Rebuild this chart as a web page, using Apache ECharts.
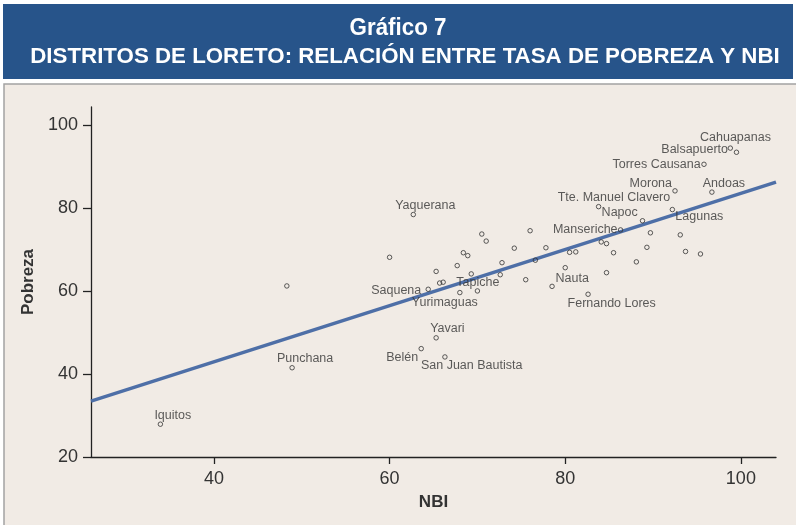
<!DOCTYPE html>
<html>
<head>
<meta charset="utf-8">
<style>
  html, body { margin: 0; padding: 0; background: #ffffff; }
  #chart { width: 796px; height: 525px; }
</style>
<script src="https://cdn.jsdelivr.net/npm/echarts@6/dist/echarts.min.js"></script>
</head>
<body>
<div id="chart"></div>
<script>
// ---- data ----
const names = ['Iquitos','Punchana','','Yaquerana','','','Saquena','','','','Yurimaguas','','','','Tapiche','','',
  'Yavari','Belén','San Juan Bautista','','','','','','','','Nauta','','','','Fernando Lores','','','','',
  'Manseriche','Napoc','Tte. Manuel Clavero','','','','Lagunas','','','','Morona','Andoas','Torres Causana','Balsapuerto','Cahuapanas'];
const nbi = [33.9,48.9,48.3,62.7,60.0,65.3,64.4,65.7,66.1,67.7,68.0,68.4,68.9,69.3,70.0,70.5,71.0,
  65.3,63.6,66.3,72.6,72.8,74.2,75.5,76.0,76.6,77.8,78.5,80.0,80.5,81.2,82.6,84.1,84.7,84.7,85.5,
  86.3,83.8,88.8,89.7,89.3,88.1,92.2,93.1,93.7,95.4,92.5,96.7,95.8,98.8,99.5];
const pobreza = [27.9,41.5,61.2,78.4,68.1,64.7,60.4,61.9,62.1,66.1,59.6,69.2,68.5,64.1,60.0,73.7,72.0,
  48.7,46.1,44.1,63.9,66.8,70.3,62.7,74.5,67.4,70.4,61.1,65.6,69.3,69.4,59.2,71.8,71.4,64.4,69.2,
  74.7,80.3,76.9,74.0,70.5,67.0,79.6,73.5,69.5,68.9,84.1,83.8,90.5,94.4,93.4];
const fitNbi = [26, 104];
const fitPobreza = [33.45, 86.2];
const xTicks = [40, 60, 80, 100];
const yTicks = [20, 40, 60, 80, 100];

// ---- label placement (style only) ----
const labelPlace = {
  'Iquitos': ['left', -6, -9],
  'Punchana': ['center', 13, -9],
  'Yaquerana': ['center', 12, -9],
  'Saquena': ['right', -7, 1],
  'Yurimaguas': ['center', -15, 9.5],
  'Tapiche': ['center', 0.5, -8],
  'Yavari': ['left', -6, -9],
  'Belén': ['right', -3, 9],
  'San Juan Bautista': ['left', -24, 9],
  'Nauta': ['left', 3.5, -8],
  'Fernando Lores': ['left', -20.5, 9],
  'Manseriche': ['right', -3, 0],
  'Napoc': ['left', 3, 6],
  'Tte. Manuel Clavero': ['right', 27.7, -23],
  'Lagunas': ['left', 3, 7],
  'Morona': ['right', -3, -7.7],
  'Andoas': ['center', 12, -9],
  'Torres Causana': ['right', -3.3, 0.7],
  'Balsapuerto': ['right', -2.3, 1.7],
  'Cahuapanas': ['center', -1, -15]
};

const pts = nbi.map((x, i) => {
  const item = { value: [x, pobreza[i]], name: names[i] };
  const p = labelPlace[names[i]];
  if (p) {
    item.label = { show: true, position: 'inside', align: p[0], verticalAlign: 'middle', offset: [p[1], p[2]] };
  }
  return item;
});

const chart = echarts.init(document.getElementById('chart'), null, { renderer: 'canvas' });
const txt = '#333333';
const titleFont = '"Liberation Sans", Arial, sans-serif';
chart.setOption({
  animation: false,
  backgroundColor: '#ffffff',
  graphic: [
    { type: 'rect', shape: { x: 4, y: 84, width: 800, height: 460 }, style: { fill: '#f1ebe5', stroke: '#a3a3a3', lineWidth: 1.5 }, z: -10 },
    { type: 'rect', shape: { x: 3, y: 4, width: 790, height: 75 }, style: { fill: '#27548a' }, z: -10 },
    { type: 'text', x: 398, y: 28, scaleX: 0.93,
      style: { text: 'Gráfico 7', x: 0, y: 0, align: 'center', verticalAlign: 'middle', fill: '#ffffff', font: 'bold 24px ' + titleFont } },
    { type: 'text', x: 405, y: 57, scaleX: 1.0,
      style: { text: 'DISTRITOS DE LORETO: RELACIÓN ENTRE TASA DE POBREZA Y NBI', x: 0, y: 0, align: 'center', verticalAlign: 'middle', fill: '#ffffff', font: 'bold 22.3px ' + titleFont } }
  ],
  grid: { left: 91, right: 20, top: 107, bottom: 68, containLabel: false },
  xAxis: {
    type: 'value', min: 26, max: 104,
    name: 'NBI', nameLocation: 'middle', nameGap: 37,
    nameTextStyle: { fontFamily: 'Liberation Sans', fontWeight: 'bold', fontSize: 17, color: txt },
    axisLine: { show: true, onZero: false, lineStyle: { color: '#222', width: 1.3 } },
    axisTick: { show: true, length: 7, customValues: xTicks, lineStyle: { color: '#222', width: 1.3 } },
    axisLabel: { customValues: xTicks, margin: 13, fontFamily: 'Liberation Sans', fontSize: 18, color: txt },
    splitLine: { show: false }
  },
  yAxis: {
    type: 'value', min: 20, max: 104.3,
    name: 'Pobreza', nameLocation: 'middle', nameGap: 51, nameRotate: 90,
    nameTextStyle: { fontFamily: 'Liberation Sans', fontWeight: 'bold', fontSize: 17, color: txt },
    axisLine: { show: true, onZero: false, lineStyle: { color: '#222', width: 1.3 } },
    axisTick: { show: true, length: 8, customValues: yTicks, lineStyle: { color: '#222', width: 1.3 } },
    axisLabel: { customValues: yTicks, margin: 13, fontFamily: 'Liberation Sans', fontSize: 18, color: txt },
    splitLine: { show: false }
  },
  series: [
    {
      type: 'line', data: fitNbi.map((x, i) => [x, fitPobreza[i]]),
      showSymbol: false, symbol: 'none', silent: true, z: 1,
      lineStyle: { color: '#4e6fa7', width: 3.5 }
    },
    {
      type: 'scatter', data: pts, symbol: 'circle', symbolSize: 4.5, z: 2,
      itemStyle: { color: 'rgba(0,0,0,0)', borderColor: '#333', borderWidth: 1 },
      label: { show: false, formatter: '{b}', fontFamily: 'Liberation Sans', fontSize: 12.5, color: txt },
      emphasis: { disabled: true }
    }
  ]
});
</script>
</body>
</html>
